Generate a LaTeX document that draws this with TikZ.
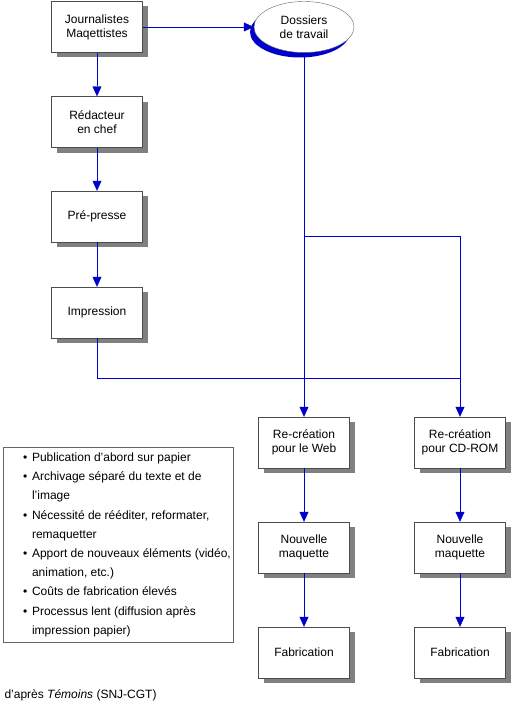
\documentclass[tikz,border=0pt]{standalone}
\usepackage{fontspec}
\setmainfont{Liberation Sans}
\usetikzlibrary{shapes.geometric,arrows.meta,shadows,positioning}
\definecolor{bleu}{RGB}{0,0,204}
\newcommand{\puce}{\makebox[9pt][l]{\textbullet}}
\newcommand{\suite}{\hspace*{9pt}}

\begin{document}
\begin{tikzpicture}[x=1pt,y=-1pt,
  etape/.style={draw=black!70, fill=white, minimum width=91pt, minimum height=51pt,
    inner sep=2pt, align=center, font=\fontsize{12}{14}\selectfont,
    drop shadow={shadow xshift=5pt, shadow yshift=-5pt, fill=black!50, opacity=1}},
  dossier/.style={ellipse, draw=black!60, fill=white, minimum width=100pt, minimum height=51pt,
    inner sep=0pt, align=center, font=\fontsize{12}{14}\selectfont,
    drop shadow={shadow xshift=-4pt, shadow yshift=-5pt, fill=bleu, opacity=1}},
  fleche/.style={draw=bleu, -{Triangle[width=9pt,length=10pt]}},
  ligne/.style={draw=bleu},
  cadre/.style={draw=black!60, line width=1.5pt, minimum width=230pt, minimum height=195pt}]
\useasboundingbox (0,0) rectangle (515,709);
% chaine papier
\node (jour) [etape] at (97,27) {Journalistes\\Maqettistes};
\node (red) [etape] at (97,122) {Rédacteur\\en chef};
\node (pre) [etape] at (97,216.5) {Pré-presse};
\node (imp) [etape] at (97,312.5) {Impression};
\node (doss) [dossier] at (304,27) {Dossiers\\de travail};
\draw[fleche] (jour) -- (red);
\draw[fleche] (red) -- (pre);
\draw[fleche] (pre) -- (imp);
\draw[fleche] (jour) -- (doss);
% chaines web et cd-rom
\foreach \col/\x/\txt in {web/304/pour le Web, cd/460/pour CD-ROM} {
    \node (rec\col) [etape] at (\x,442.5) {Re-création\\\txt};
    \node (nm\col) [etape] at (\x,547.5) {Nouvelle\\maquette};
    \node (fab\col) [etape] at (\x,652.5) {Fabrication};
    \draw[fleche] (rec\col) -- (nm\col);
    \draw[fleche] (nm\col) -- (fab\col);
}
\coordinate (branche) at (304,236);
\coordinate (jonction) at (460,378);
\draw[fleche] (doss) -- (recweb);
\draw[fleche] (branche) -| (reccd);
\draw[ligne] (imp) |- (jonction);
% liste des defauts
\node (liste) [cadre, anchor=north west] at (2.5,446.5) {};
\node (puces) [anchor=west, align=left, font=\fontsize{12}{19.2}\selectfont]
  at ([xshift=17pt]liste.west) {%
  \puce Publication d'abord sur papier\\
  \puce Archivage séparé du texte et de\\
  \suite l'image\\
  \puce Nécessité de rééditer, reformater,\\
  \suite remaquetter\\
  \puce Apport de nouveaux éléments (vidéo,\\
  \suite animation, etc.)\\
  \puce Coûts de fabrication élevés\\
  \puce Processus lent (diffusion après\\
  \suite impression papier)};
\node (source) [anchor=west, font=\fontsize{12}{14}\selectfont] at (1,695)
  {d'après\ \textit{Témoins}\ (SNJ-CGT)};
\end{tikzpicture}
\end{document}
